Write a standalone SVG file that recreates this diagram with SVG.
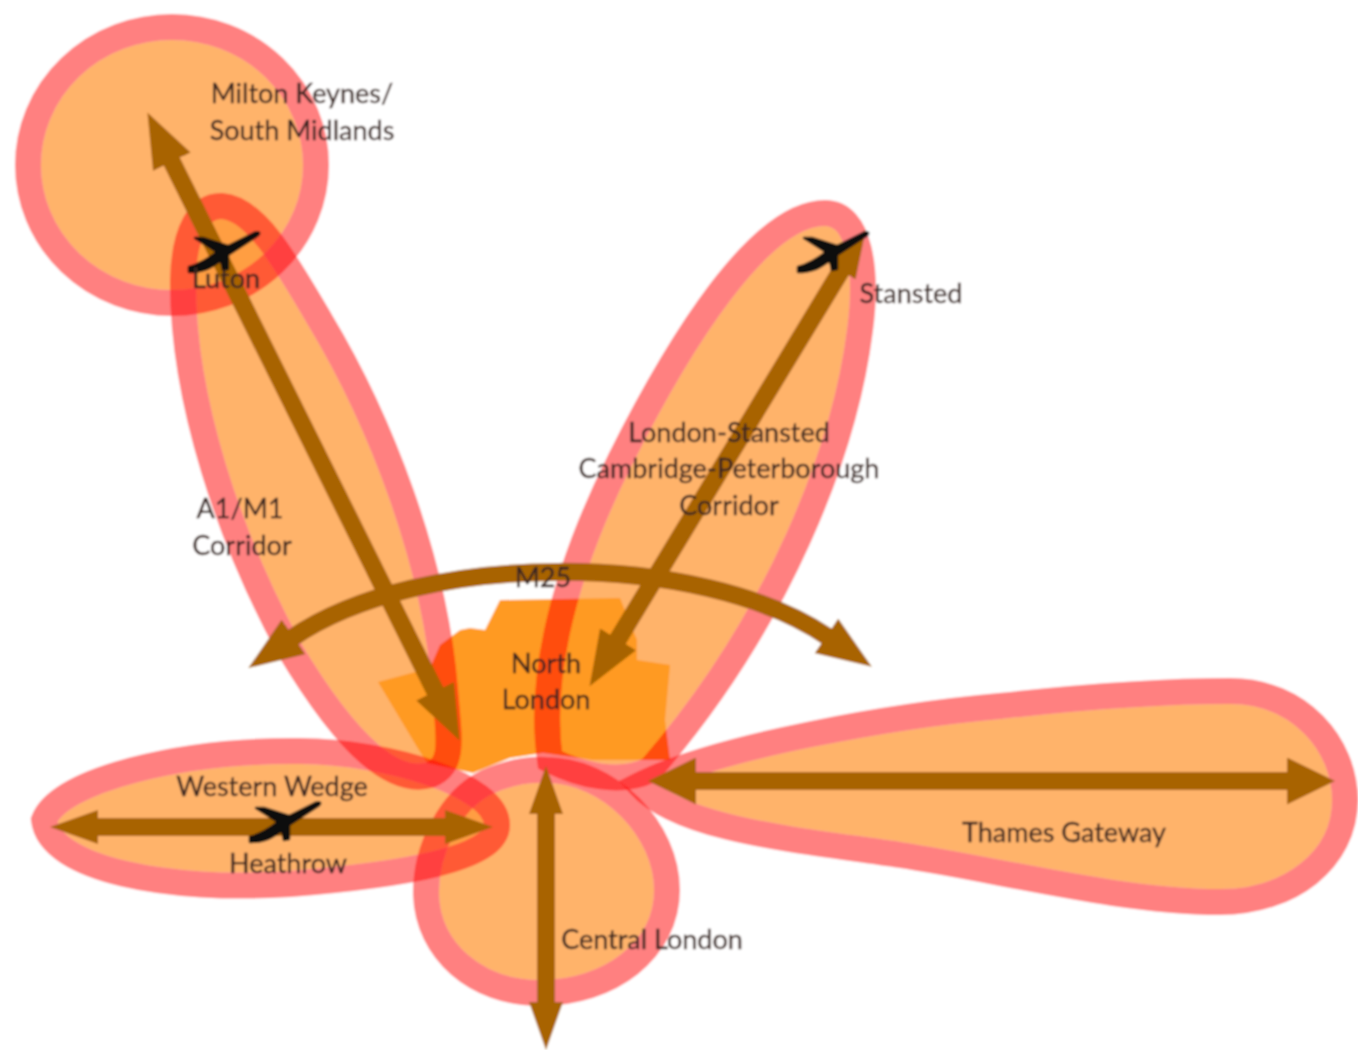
<svg xmlns="http://www.w3.org/2000/svg" width="1358" height="1050" viewBox="0 0 1358 1050">
<style>
.fill{fill:#FF9532;fill-opacity:.72;stroke:none}
.edge{fill:none;stroke:#FF8080;stroke-width:26;mix-blend-mode:multiply}
.cut{fill:#fff;stroke:#000;stroke-width:26}
.ar{fill:none;stroke:#A86400;stroke-width:18}
.big{marker-start:url(#hb);marker-end:url(#hb)}
.small{marker-start:url(#hs);marker-end:url(#hs)}
.wide{marker-start:url(#ht);marker-end:url(#ht)}
.pl{fill:#111;stroke:#111;stroke-width:2.5;stroke-linejoin:round}
text{font-family:"Lato","Noto Sans",sans-serif;font-size:27px;fill:#3a2520;stroke:#3a2520;stroke-width:.3;text-anchor:middle}
</style>
<defs>
<marker id="hb" viewBox="0 0 55 42" refX="2" refY="21" markerWidth="55" markerHeight="42" markerUnits="userSpaceOnUse" orient="auto-start-reverse"><path d="M0 0L55 21L0 42Z" fill="#A86400"/></marker>
<marker id="hs" viewBox="0 0 48 34" refX="2" refY="17" markerWidth="48" markerHeight="34" markerUnits="userSpaceOnUse" orient="auto-start-reverse"><path d="M0 0L48 17L0 34Z" fill="#A86400"/></marker>
<marker id="ht" viewBox="0 0 48 47" refX="2" refY="23.5" markerWidth="48" markerHeight="47" markerUnits="userSpaceOnUse" orient="auto-start-reverse"><path d="M0 0L48 23.5L0 47Z" fill="#A86400"/></marker>
<filter id="b" x="0" y="0" width="1358" height="1050" filterUnits="userSpaceOnUse"><feGaussianBlur stdDeviation="0.9"/></filter>
<path id="plane" d="M-36 22 C-22 22 -14 18 -4 10 L-2 20 L3 19 L3 5 L32 -14 C36 -17 34 -19 29 -17 L3 -4 L-22 -12 L-30 -12 L-8 2 C-18 10 -28 15 -36 17Z"/>
<ellipse id="s1" cx="172" cy="165" rx="144" ry="138"/>
<path id="s2" d="M445 690 C449 740 455 765 430 775 C395 785 350 750 290 650 C230 540 182 400 183 280 C184 230 200 205 222 206 C255 208 285 260 320 320 C380 420 435 560 445 690Z"/>
<path id="s3" d="M550 760 C540 690 555 590 620 460 C680 340 760 213 825 213 C860 213 868 270 860 330 C845 450 780 620 650 770 C620 785 580 775 550 760Z"/>
<path id="s4" d="M640 785 C720 745 900 715 1000 706 C1100 695 1180 691 1230 691 C1300 691 1345 745 1345 800 C1345 860 1290 902 1220 902 C1120 902 1000 870 900 855 C800 840 680 830 640 785Z"/>
<path id="s5" d="M546 770 C610 770 667 830 667 890 C667 950 610 993 540 993 C475 993 428 950 426 895 C425 850 450 800 487 782 C510 772 530 769 546 770Z"/>
<path id="s6" d="M44 820 C60 780 180 750 300 751 C390 752 497 785 497 825 C497 860 400 875 290 884 C170 892 50 870 44 820Z"/>
<mask id="m1" maskUnits="userSpaceOnUse" x="0" y="0" width="1358" height="1050"><use href="#s1" class="cut"/></mask>
<mask id="m2" maskUnits="userSpaceOnUse" x="0" y="0" width="1358" height="1050"><use href="#s2" class="cut"/></mask>
<mask id="m3" maskUnits="userSpaceOnUse" x="0" y="0" width="1358" height="1050"><use href="#s3" class="cut"/></mask>
<mask id="m4" maskUnits="userSpaceOnUse" x="0" y="0" width="1358" height="1050"><use href="#s4" class="cut"/></mask>
<mask id="m5" maskUnits="userSpaceOnUse" x="0" y="0" width="1358" height="1050"><use href="#s5" class="cut"/></mask>
<mask id="m6" maskUnits="userSpaceOnUse" x="0" y="0" width="1358" height="1050"><use href="#s6" class="cut"/></mask>
</defs>
<g filter="url(#b)">
<rect width="1358" height="1050" fill="#fff"/>
<g id="areas">
<use href="#s1" class="fill" mask="url(#m1)"/><use href="#s2" class="fill" mask="url(#m2)"/><use href="#s3" class="fill" mask="url(#m3)"/><use href="#s4" class="fill" mask="url(#m4)"/><use href="#s5" class="fill" mask="url(#m5)"/><use href="#s6" class="fill" mask="url(#m6)"/>
</g>
<g id="london"><path d="M378 682 L430 668 L440 645 L460 630 L470 628 L485 630 L500 600 L620 598 L637 640 L637 660 L670 665 L665 720 L670 760 L593 760 L543 753 L510 758 L473 773 L427 763 L417 747Z" fill="#FF9A20"/></g>
<g id="milton-keynes"><use href="#s1" class="edge"/></g>
<g id="a1-m1"><use href="#s2" class="edge"/></g>
<g id="stansted"><use href="#s3" class="edge"/></g>
<g id="thames"><use href="#s4" class="edge"/></g>
<g id="central"><use href="#s5" class="edge"/></g>
<g id="western"><use href="#s6" class="edge"/></g>
<g id="connectors">
<path class="ar big" d="M171 160 L436 693"/>
<path class="ar" d="M617 641 L842 269" marker-start="url(#hb)" marker-end="url(#hs)"/>
<path class="ar small" d="M96 827 L447 827"/>
<path class="ar wide" d="M694 781 L1289 781"/>
<path class="ar small" d="M546 812 L546 1004"/>
<path class="ar big" d="M292 638 C420 550 700 550 828 637"/>
</g>
<g id="planes">
<use href="#plane" class="pl" x="225" y="250"/>
<use href="#plane" class="pl" x="834" y="250"/>
<use href="#plane" class="pl" x="286" y="820"/>
</g>
<g id="labels">
<text x="302" y="103">Milton Keynes/</text>
<text x="302" y="140">South Midlands</text>
<text x="226" y="288">Luton</text>
<text x="911" y="303">Stansted</text>
<text x="729" y="442">London-Stansted</text>
<text x="729" y="478">Cambridge-Peterborough</text>
<text x="729" y="515">Corridor</text>
<text x="240" y="518">A1/M1</text>
<text x="242" y="555">Corridor</text>
<text x="543" y="587">M25</text>
<text x="546" y="673">North</text>
<text x="546" y="709">London</text>
<text x="272" y="796">Western Wedge</text>
<text x="288" y="873">Heathrow</text>
<text x="1064" y="842">Thames Gateway</text>
<text x="652" y="949">Central London</text>
</g>
</g>
</svg>
